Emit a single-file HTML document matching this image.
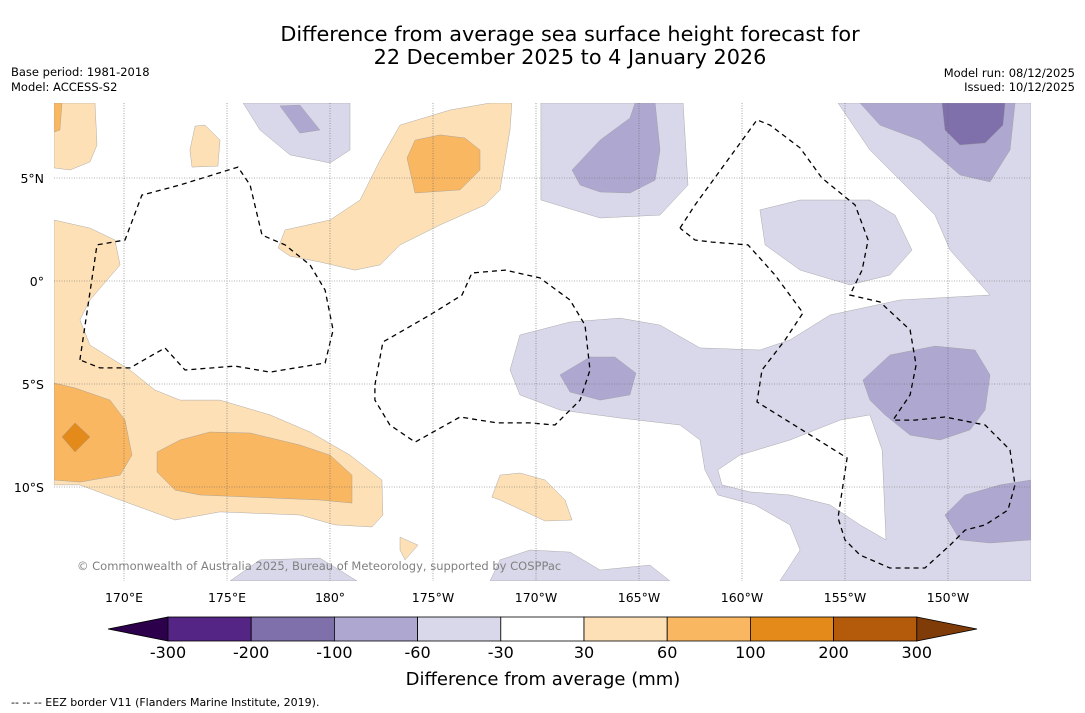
<!DOCTYPE html>
<html><head><meta charset="utf-8"><style>
body{margin:0;background:#fff;font-family:"DejaVu Sans","Liberation Sans",sans-serif;}
svg{display:block}
text{font-family:"DejaVu Sans","Liberation Sans",sans-serif}
</style></head><body>
<svg id="chart" width="1085" height="713" viewBox="0 0 1085 713">
<rect width="1085" height="713" fill="#fff"/>
<text x="570" y="41" font-size="20.8" text-anchor="middle">Difference from average sea surface height forecast for</text>
<text x="570" y="64" font-size="20.8" text-anchor="middle">22 December 2025 to 4 January 2026</text>
<text x="11" y="76" font-size="11.5">Base period: 1981-2018</text>
<text x="11" y="91" font-size="11.5">Model: ACCESS-S2</text>
<text x="1075" y="77" font-size="11.5" text-anchor="end">Model run: 08/12/2025</text>
<text x="1075" y="91" font-size="11.5" text-anchor="end">Issued: 10/12/2025</text>
<defs><clipPath id="mapclip"><rect x="54" y="103" width="977" height="478"/></clipPath></defs>
<g id="map" clip-path="url(#mapclip)"></g>
<g id="grid"></g>
<g id="axes"></g>
<text x="77" y="570" font-size="11.5" fill="#808080">© Commonwealth of Australia 2025, Bureau of Meteorology, supported by COSPPac</text>
<g id="cbar"></g>
<text x="543" y="685" font-size="18" text-anchor="middle">Difference from average (mm)</text>
<text x="11" y="706" font-size="11">--  --  -- EEZ border V11 (Flanders Marine Institute, 2019).</text>
</svg>
<script>
// colorbar data
const levels=[-300,-200,-100,-60,-30,30,60,100,200,300];
const binColors=["#552586","#7f6fab","#aea8d1","#d8d8ea","#ffffff","#fde0b6","#f9b762","#e38a1a","#b35b0a"];
const lonTicks=[170,175,180,185,190,195,200,205,210];
const lonLabels=["170°E","175°E","180°","175°W","170°W","165°W","160°W","155°W","150°W"];
const latTicks=[5,0,-5,-10];
const latLabels=["5°N","0°","5°S","10°S"];
// contour regions in lon (0-360) / lat
const px2=(x,y)=>[+(170+(x-124)/20.6).toFixed(2),+((281-y)/20.6).toFixed(2)];
const P=a=>{const r=[];for(let i=0;i<a.length;i+=2)r.push(px2(a[i],a[i+1]));return r;};
const lightPurple=[
P([243,103,350,103,350,150,330,163,290,155,260,130]),
P([541,103,683,103,688,185,660,215,600,218,541,200,541,140]),
P([760,210,800,200,870,200,895,215,912,250,890,275,850,285,800,270,765,245]),
P([838,103,1031,103,1031,581,780,581,800,550,790,525,755,505,718,495,705,470,700,440,680,425,620,418,560,410,520,395,510,370,520,335,570,322,620,318,660,325,700,348,760,350,790,340,830,315,900,300,990,295,950,250,935,215,900,180,870,150]),
P([490,581,500,560,530,550,570,552,600,570,650,565,670,581]),
P([230,581,260,560,320,558,357,581])
];
const holes=[P([718,470,740,455,790,440,840,420,870,415,882,450,886,540,860,525,830,505,790,495,750,492,722,485])];
const midPurple=[
P([280,106,300,105,320,130,300,133]),
P([572,170,600,140,630,118,635,103,655,103,660,150,655,180,630,193,600,192,580,185]),
P([860,103,1015,103,1010,150,990,182,960,175,920,140,880,125]),
P([560,375,590,357,615,357,636,373,630,395,600,400,570,392]),
P([863,380,890,355,935,346,975,350,990,375,985,410,970,430,940,440,910,435,885,415,870,400]),
P([945,515,965,495,1000,485,1031,480,1031,540,990,543,960,540])
];
const darkPurple=[P([942,103,1005,103,1003,125,985,143,960,145,945,130])];
const lightOrange=[
P([54,103,95,103,97,145,90,162,70,170,54,168]),
P([195,126,205,125,220,140,218,166,192,167,190,150]),
P([400,125,450,110,490,103,512,103,510,130,500,190,485,205,440,225,400,245,380,265,355,270,320,262,290,256,278,248,285,230,330,220,360,200,380,160]),
P([54,220,90,228,115,240,120,265,90,300,80,320,90,345,130,370,155,390,180,400,220,400,270,415,310,432,350,455,382,480,383,515,372,527,335,525,300,515,220,512,175,520,120,500,80,485,54,485]),
P([492,497,500,475,520,473,545,480,565,500,572,520,545,521,500,500]),
P([400,537,418,545,405,560,400,550])
];
const midOrange=[
P([54,103,62,103,60,130,54,132]),
P([407,158,415,140,440,135,465,138,480,150,480,170,460,190,415,193]),
P([54,383,75,388,110,400,125,420,132,455,120,475,80,482,54,480]),
P([157,452,180,440,210,432,250,433,300,445,330,455,352,475,352,503,320,500,250,497,200,495,175,490,157,472])
];
const darkOrange=[P([62,437,75,423,90,437,75,452])];
const eez=[
P([80,360,97,245,125,240,142,195,180,185,238,167,250,185,262,235,285,245,310,265,325,290,333,330,325,363,270,372,235,366,185,370,165,348,130,368,100,368,80,360]),
P([375,385,383,342,430,315,462,295,472,273,505,270,540,278,570,300,585,325,590,370,580,400,555,425,530,423,497,423,460,417,415,442,390,425,375,400,375,385]),
P([680,228,695,205,757,120,770,125,800,148,822,178,855,205,868,240,862,270,850,295,880,302,910,330,916,365,910,395,893,420,915,420,945,417,985,425,1010,450,1015,485,1008,510,985,525,965,530,950,545,925,568,890,568,860,555,845,540,838,518,847,458,757,402,762,370,785,340,803,313,775,275,748,245,712,242,695,240,680,228])
];
const NS="http://www.w3.org/2000/svg";
const xS=lon=>124+(lon-170)*20.6;
const yS=lat=>281-lat*20.6;
function mk(tag,attrs,parent){const e=document.createElementNS(NS,tag);for(const k in attrs)e.setAttribute(k,attrs[k]);parent.appendChild(e);return e;}
const ring=r=>"M"+r.map(p=>xS(p[0]).toFixed(1)+","+yS(p[1]).toFixed(1)).join("L")+"Z";
const map=document.getElementById("map");
function fillSet(set,color,name,extra){set.forEach((r,i)=>{const d=ring(r)+(extra||"");const e=mk("path",{d:d,fill:color,"fill-rule":"evenodd",stroke:"#999","stroke-width":"0.4"},map);

});}
fillSet(lightPurple.slice(0,3),binColors[3],"anomaly-60-30");
fillSet([lightPurple[3]],binColors[3],"anomaly-60-30-main",holes.map(ring).join(""));
fillSet(lightPurple.slice(4),binColors[3],"anomaly-60-30-south");
fillSet(midPurple,binColors[2],"anomaly-100-60");
fillSet(darkPurple,binColors[1],"anomaly-200-100");
fillSet(lightOrange,binColors[5],"anomaly-30-60");
fillSet(midOrange,binColors[6],"anomaly-60-100");
fillSet(darkOrange,binColors[7],"anomaly-100-200");
eez.forEach((r,i)=>{const e=mk("path",{d:"M"+r.map(p=>xS(p[0]).toFixed(1)+","+yS(p[1]).toFixed(1)).join("L"),fill:"none",stroke:"#000","stroke-width":"1.3","stroke-dasharray":"5,4"},map);

});
const grid=document.getElementById("grid"),axes=document.getElementById("axes");
lonTicks.forEach((l,i)=>{const x=xS(l);
const g=mk("line",{x1:x,x2:x,y1:103,y2:581,stroke:"#666","stroke-width":"0.6","stroke-dasharray":"1,1.5"},grid);


const t=mk("text",{x:x,y:602,"font-size":"12.5","text-anchor":"middle"},axes);t.textContent=lonLabels[i];

});
latTicks.forEach((l,i)=>{const y=yS(l);
const g=mk("line",{x1:54,x2:1031,y1:y,y2:y,stroke:"#666","stroke-width":"0.6","stroke-dasharray":"1,1.5"},grid);


const t=mk("text",{x:44,y:y+5,"font-size":"12.5","text-anchor":"end"},axes);t.textContent=latLabels[i];

});
// colorbar
const cb=document.getElementById("cbar");
const cx0=168,cw=83.2,cy=617,ch=24;
const lt=mk("polygon",{points:`108,${cy+ch/2} ${cx0},${cy} ${cx0},${cy+ch}`,fill:"#2d004b",stroke:"#000","stroke-width":"0.8"},cb);


binColors.forEach((c,i)=>{const r=mk("rect",{x:cx0+i*cw,y:cy,width:cw,height:ch,fill:c,stroke:"#000","stroke-width":"0.8"},cb);

});
const xe=cx0+binColors.length*cw;
const rt=mk("polygon",{points:`${xe},${cy} 977,${cy+ch/2} ${xe},${cy+ch}`,fill:"#7f3b08",stroke:"#000","stroke-width":"0.8"},cb);


levels.forEach((v,i)=>{const t=mk("text",{x:cx0+i*cw,y:658,"font-size":"16","text-anchor":"middle"},cb);t.textContent=v;

});
</script>
</body></html>
